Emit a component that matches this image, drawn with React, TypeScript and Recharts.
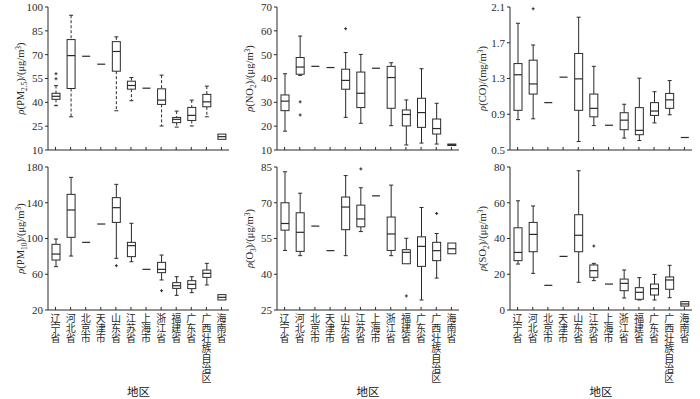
import React from "react";
import { Bar, ComposedChart, Label, XAxis, YAxis } from "recharts";

// 地区顺序
const provinces = [
  "辽宁省", "河北省", "北京市", "天津市", "山东省", "江苏省",
  "上海市", "浙江省", "福建省", "广东省", "广西壮族自治区", "海南省",
];

// [min, q1, median, q3, max] per province
const pm25Box = [
  [37.9, 41.9, 43.8, 45.7, 50.5], [30.9, 48.7, 69.4, 79.5, 94.8], [69, 69, 69, 69, 69], [64, 64, 64, 64, 64],
  [34.7, 59.6, 72, 78.2, 81.2], [41, 48.3, 50.6, 53.3, 55.6], [48.9, 48.9, 48.9, 48.9, 48.9], [25.1, 38.7, 41.4, 48.5, 57.1],
  [24.4, 27.2, 29.3, 30.5, 34.5], [25.1, 28.6, 31.8, 36.8, 41.4], [30.9, 37.2, 40.3, 45, 50.2], [16.7, 16.7, 18.4, 20, 20],
];
const pm25Out: [string, number][] = [["辽宁省", 54.8], ["辽宁省", 58]];

const no2Box = [
  [17.9, 26.5, 30.5, 33.1, 42], [41.3, 41.8, 44.8, 48.8, 57.8], [45.1, 45.1, 45.1, 45.1, 45.1], [44.6, 44.6, 44.6, 44.6, 44.6],
  [23.7, 35.5, 39.2, 43.9, 50.9], [21.2, 27.8, 33.8, 42.7, 50.1], [44.3, 44.3, 44.3, 44.3, 44.3], [20.2, 27.5, 40.4, 45.1, 46.6],
  [12.1, 20.1, 24.9, 26.8, 31], [12.9, 19.5, 25.7, 31.7, 44.1], [12.5, 16.7, 19, 23, 29.6], [11.9, 11.9, 12.2, 12.5, 12.5],
];
const no2Out: [string, number][] = [["河北省", 30.2], ["河北省", 24.7], ["山东省", 60.9]];

const coBox = [
  [0.84, 0.944, 1.342, 1.467, 1.918], [0.849, 1.126, 1.239, 1.505, 1.675], [1.03, 1.03, 1.03, 1.03, 1.03], [1.315, 1.315, 1.315, 1.315, 1.315],
  [0.595, 0.944, 1.296, 1.58, 1.986], [0.773, 0.871, 0.966, 1.126, 1.436], [0.777, 0.777, 0.777, 0.777, 0.777], [0.633, 0.727, 0.834, 0.917, 1.012],
  [0.606, 0.671, 0.72, 0.974, 1.304], [0.803, 0.887, 0.936, 1.03, 1.152], [0.894, 0.966, 1.061, 1.133, 1.277], [0.64, 0.64, 0.64, 0.64, 0.64],
];
const coOut: [string, number][] = [["河北省", 2.08]];

const pm10Box = [
  [68.5, 75.9, 82.6, 93.5, 99.4], [80.4, 101.3, 131.9, 149.4, 168.4], [95.7, 95.7, 95.7, 95.7, 95.7], [116.2, 116.2, 116.2, 116.2, 116.2],
  [77.8, 118, 134.5, 145.7, 160.6], [74, 79.7, 92, 95.7, 117], [65.5, 65.5, 65.5, 65.5, 65.5], [53.6, 61.8, 65.5, 73.3, 81.5],
  [36.4, 44.2, 47.2, 50.6, 57.3], [39.4, 43.9, 48.7, 52.8, 57.3], [48, 56.5, 61, 64.7, 72.2], [31.2, 31.2, 34.2, 37.2, 37.2],
];
const pm10Out: [string, number][] = [["山东省", 69.6], ["浙江省", 41.6]];

const o3Box = [
  [50, 58.5, 61.3, 70, 83], [47.8, 49.6, 57.6, 65.8, 74], [60.2, 60.2, 60.2, 60.2, 60.2], [49.9, 49.9, 49.9, 49.9, 49.9],
  [47.8, 58.7, 68.2, 72.4, 81.4], [57.9, 59.9, 63.2, 69, 76.3], [72.9, 72.9, 72.9, 72.9, 72.9], [47.8, 50, 56.9, 64, 77.4],
  [44.4, 44.4, 49.2, 50.3, 55.1], [29.2, 43.3, 51.7, 55.7, 68], [38.4, 45.7, 49.9, 53.4, 57.1], [48.6, 48.6, 50.7, 53.1, 53.1],
];
const o3Out: [string, number][] = [["江苏省", 84.2], ["福建省", 30.9], ["广西壮族自治区", 65.5]];

const so2Box = [
  [25.7, 27.6, 32.2, 46, 61.1], [20.5, 32.6, 42.3, 49, 58.2], [13.8, 13.8, 13.8, 13.8, 13.8], [30, 30, 30, 30, 30],
  [15.5, 32.6, 41.8, 53.3, 77.9], [16.4, 18.3, 22, 25.2, 26.1], [14.5, 14.5, 14.5, 14.5, 14.5], [6.7, 10.8, 14.9, 17.3, 22.4],
  [5.6, 6, 9.9, 12.5, 18.1], [5.6, 8.4, 11.9, 14.5, 19.9], [6.9, 11.6, 16.8, 18.5, 25], [2.2, 2.2, 3.4, 4.7, 4.7],
];
const so2Out: [string, number][] = [["江苏省", 35.8]];

const pm25Ticks = [10, 25, 40, 55, 70, 85, 100];
const no2Ticks = [10, 20, 30, 40, 50, 60, 70];
const coTicks = [0.5, 0.9, 1.3, 1.7, 2.1];
const pm10Ticks = [20, 60, 100, 140, 180];
const o3Ticks = [25, 40, 55, 70, 85];
const so2Ticks = [0, 20, 40, 60, 80];

const INK = "#2a2a2a";
const SERIF = "'Liberation Serif', 'Times New Roman', serif";
const CJK = "'Noto Sans CJK SC', sans-serif";
const MAX_OUT = 3;

function buildRows(box: number[][], out: [string, number][]) {
  return provinces.map((name, i) => {
    const [min, q1, med, q3, max] = box[i];
    return { name, min, q1, med, q3, max, out: out.filter((o) => o[0] === name).map((o) => o[1]) };
  });
}

const whisker = (end: "low" | "high", dashed: boolean) => (p: any) => {
  const { x, y, width, height } = p;
  if (!(height > 0.3)) return <g />;
  const cx = x + width / 2;
  const capY = end === "low" ? y + height : y;
  return (
    <g stroke={INK} strokeWidth={1}>
      <line x1={cx} x2={cx} y1={y} y2={y + height} strokeDasharray={dashed ? "3 2" : undefined} />
      <line x1={cx - 2} x2={cx + 2} y1={capY} y2={capY} />
    </g>
  );
};

const boxShape = (p: any) => {
  const { x, y, width, height } = p;
  if (!(height > 0.3)) return <g />;
  return <rect x={x} y={y} width={width} height={height} fill="#fff" stroke={INK} strokeWidth={1} />;
};

const medianShape = (p: any) => {
  const { x, y, width } = p;
  return <line x1={x} x2={x + width} y1={y} y2={y} stroke={INK} strokeWidth={1.2} />;
};

const outlierShape = (k: number) => (p: any) => {
  const { x, y, width, payload } = p;
  if (payload.out[k] == null) return <g />;
  const cx = x + width / 2;
  return (
    <g stroke={INK} strokeWidth={1}>
      <line x1={cx - 1.5} x2={cx + 1.5} y1={y} y2={y} />
      <line x1={cx} x2={cx} y1={y - 1.5} y2={y + 1.5} />
    </g>
  );
};

type Part = { t: string; sub?: boolean; sup?: boolean; it?: boolean };

function axisTitle(parts: Part[]) {
  return (props: any) => {
    const vb = props.viewBox;
    const x = vb.x + vb.width - 24;
    const y = vb.y + vb.height / 2;
    let shift = 0;
    return (
      <text x={x} y={y} transform={`rotate(-90 ${x} ${y})`} textAnchor="middle" fontFamily={SERIF} fontSize={10.5} fill={INK}>
        {parts.map((pt, i) => {
          const target = pt.sub ? 2.5 : pt.sup ? -3.5 : 0;
          const dy = target - shift;
          shift = target;
          return (
            <tspan key={i} dy={dy} fontSize={pt.sub || pt.sup ? 7.5 : 10.5} fontStyle={pt.it ? "italic" : "normal"}>
              {pt.t}
            </tspan>
          );
        })}
      </text>
    );
  };
}

function Panel({
  box, out, ticks, title, left, top, plotW, bottom, dashed,
}: {
  box: number[][]; out: [string, number][]; ticks: number[]; title: Part[];
  left: number; top: number; plotW: number; bottom: boolean; dashed?: boolean;
}) {
  const rows = buildRows(box, out);
  const axisH = bottom ? 89 : 10;
  const tick = (p: any) => (
    <g>
      <line x1={p.x} x2={p.x} y1={p.y} y2={p.y - 3} stroke={INK} />
      {bottom && (
        <text
          x={p.x}
          y={p.y + 3}
          textAnchor="start"
          fontFamily={CJK}
          fontSize={10}
          fill={INK}
          style={{ writingMode: "vertical-rl" }}
        >
          {String(p.payload.value)}
        </text>
      )}
    </g>
  );
  return (
    <div style={{ position: "absolute", left: left - 48, top }}>
      <ComposedChart
        width={48 + plotW + 4}
        height={7 + 143 + axisH}
        data={rows}
        margin={{ top: 7, right: 4, left: 0, bottom: 0 }}
        barGap={-8}
      >
        <XAxis
          dataKey="name"
          type="category"
          height={axisH}
          interval={0}
          tickSize={0}
          tickMargin={0}
          tickLine={false}
          tick={tick}
          axisLine={{ stroke: INK }}
        >
          {bottom && (
            <Label
              content={(p: any) => (
                <text x={p.viewBox.x + p.viewBox.width / 2} y={p.viewBox.y + 86} textAnchor="middle" fontFamily={CJK} fontSize={11.5} fill="#111">
                  地区
                </text>
              )}
            />
          )}
        </XAxis>
        <XAxis xAxisId="top" dataKey="name" orientation="top" height={0} tick={false} tickLine={false} axisLine={{ stroke: INK }} />
        <YAxis
          type="number"
          domain={[ticks[0], ticks[ticks.length - 1]]}
          ticks={ticks}
          interval={0}
          width={48}
          tickSize={3}
          tickMargin={2}
          tick={{ fontFamily: SERIF, fontSize: 11, fill: INK }}
          tickLine={{ stroke: INK }}
          axisLine={{ stroke: INK }}
        >
          <Label content={axisTitle(title)} />
        </YAxis>
        <YAxis yAxisId="right" orientation="right" type="number" domain={[0, 1]} width={0} tick={false} tickLine={false} axisLine={{ stroke: INK }} />
        <Bar dataKey={(d: any) => [d.min, d.q1]} barSize={8} shape={whisker("low", !!dashed)} isAnimationActive={false} />
        <Bar dataKey={(d: any) => [d.q3, d.max]} barSize={8} shape={whisker("high", !!dashed)} isAnimationActive={false} />
        <Bar dataKey={(d: any) => [d.q1, d.q3]} barSize={8} shape={boxShape} isAnimationActive={false} />
        <Bar dataKey={(d: any) => [d.med, d.med]} barSize={8} shape={medianShape} isAnimationActive={false} />
        {Array.from({ length: MAX_OUT }, (_, k) => (
          <Bar
            key={k}
            dataKey={(d: any) => {
              const v = d.out[k] ?? d.med;
              return [v, v];
            }}
            barSize={8}
            shape={outlierShape(k)}
            isAnimationActive={false}
          />
        ))}
      </ComposedChart>
    </div>
  );
}

export default function App() {
  return (
    <div style={{ position: "relative", width: 700, height: 399, background: "#fff", overflow: "hidden" }}>
      <style>{`body{margin:0}`}</style>
      <Panel box={pm25Box} out={pm25Out} ticks={pm25Ticks} left={48} top={0} plotW={181} bottom={false} dashed
        title={[{ t: "ρ", it: true }, { t: "(PM" }, { t: "2.5", sub: true }, { t: ")/(μg/m" }, { t: "3", sup: true }, { t: ")" }]} />
      <Panel box={no2Box} out={no2Out} ticks={no2Ticks} left={277} top={0} plotW={182} bottom={false}
        title={[{ t: "ρ", it: true }, { t: "(NO" }, { t: "2", sub: true }, { t: ")/(μg/m" }, { t: "3", sup: true }, { t: ")" }]} />
      <Panel box={coBox} out={coOut} ticks={coTicks} left={510} top={0} plotW={182} bottom={false}
        title={[{ t: "ρ", it: true }, { t: "(CO)/(mg/m" }, { t: "3", sup: true }, { t: ")" }]} />
      <Panel box={pm10Box} out={pm10Out} ticks={pm10Ticks} left={48} top={160} plotW={181} bottom
        title={[{ t: "ρ", it: true }, { t: "(PM" }, { t: "10", sub: true }, { t: ")/(μg/m" }, { t: "3", sup: true }, { t: ")" }]} />
      <Panel box={o3Box} out={o3Out} ticks={o3Ticks} left={277} top={160} plotW={182} bottom
        title={[{ t: "ρ", it: true }, { t: "(O" }, { t: "3", sub: true }, { t: ")/(μg/m" }, { t: "3", sup: true }, { t: ")" }]} />
      <Panel box={so2Box} out={so2Out} ticks={so2Ticks} left={510} top={160} plotW={182} bottom
        title={[{ t: "ρ", it: true }, { t: "(SO" }, { t: "2", sub: true }, { t: ")/(μg/m" }, { t: "3", sup: true }, { t: ")" }]} />
    </div>
  );
}
